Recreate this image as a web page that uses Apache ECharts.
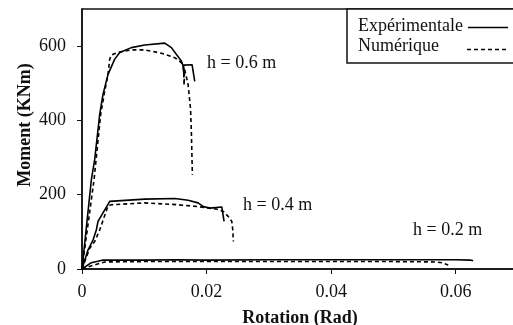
<!DOCTYPE html>
<html>
<head>
<meta charset="utf-8">
<script src="https://cdn.jsdelivr.net/npm/echarts@6/dist/echarts.min.js"></script>
<style>html,body{margin:0;padding:0;background:#fff}#c{width:513px;height:325px}</style>
</head>
<body>
<div id="c"></div>
<script>
// Data: [rotation (rad), moment (kNm)]
const exp06 = [[0,0],[0.0015,240],[0.00204,295],[0.00284,416],[0.00337,470],[0.00418,524],[0.00525,565],[0.00606,583],[0.00792,596],[0.01007,603],[0.01329,608],[0.01435,596],[0.01595,560],[0.01622,547],[0.01639,519],[0.0163,549],[0.01767,550],[0.0181,505]];
const num06 = [[0,0],[0.00193,240],[0.003,416],[0.00365,479],[0.00418,524],[0.00445,565],[0.00471,576],[0.00578,583],[0.00792,590],[0.01007,590],[0.01274,581],[0.01489,569],[0.01595,556],[0.0163,543],[0.01639,495],[0.01647,538],[0.01703,497],[0.0173,452],[0.01743,430],[0.01756,368],[0.01772,254]];
const exp04 = [[0,0],[0.00096,51],[0.00177,78],[0.0023,105],[0.00257,128],[0.00337,151],[0.00445,182],[0.00631,184],[0.01007,188],[0.01489,190],[0.01703,185],[0.01863,178],[0.01949,168],[0.02056,164],[0.02244,167],[0.0227,164],[0.02281,128]];
const num04 = [[0,0],[0.00124,56],[0.00204,74],[0.00284,105],[0.00418,170],[0.00471,173],[0.01007,178],[0.01542,173],[0.01863,168],[0.02164,161],[0.0227,155],[0.0235,141],[0.02405,128],[0.02421,105],[0.0243,74]];
const exp02 = [[0,0],[0.0015,17],[0.0034,24],[0.01,24],[0.015,25],[0.02,24],[0.03,25],[0.04,25],[0.05,25],[0.06,25],[0.0623,24],[0.0628,22]];
const num02 = [[0,0],[0.002,11],[0.0037,19],[0.01,20],[0.02,20],[0.03,20],[0.04,20],[0.05,20],[0.0565,19],[0.0578,17],[0.0588,11]];
const seriesNames = ['Expérimentale', 'Numérique'];
const annotations = ['h = 0.6 m', 'h = 0.4 m', 'h = 0.2 m'];
const xTitle = 'Rotation (Rad)';
const yTitle = 'Moment (KNm)';

const FONT = 'Liberation Serif';
const FONTCSS = '18px "Liberation Serif"';
const solid = {color:'#000', width:1.6, type:'solid'};
const dashed = {color:'#000', width:1.6, type:[4,3]};
function mk(name, data, ls){
  return {type:'line', name:name, data:data, symbol:'none', showSymbol:false, lineStyle:ls, itemStyle:{color:'#000'}, animation:false, silent:true};
}
const chart = echarts.init(document.getElementById('c'), null, {renderer:'canvas'});
chart.setOption({
  animation:false,
  backgroundColor:'#fff',
  grid:{left:82, top:9, right:-5, bottom:56, containLabel:false, outerBoundsMode:'none',
        show:true, borderColor:'#111', borderWidth:1.5, backgroundColor:'transparent'},
  xAxis:{type:'value', min:0, max:0.07, interval:0.02,
    name:xTitle, nameLocation:'middle', nameGap:40,
    nameTextStyle:{fontFamily:FONT, fontSize:18, fontWeight:'bold', color:'#111'},
    axisLine:{lineStyle:{color:'#111', width:1.5}},
    axisTick:{show:true, inside:false, length:5, lineStyle:{color:'#111'}},
    axisLabel:{fontFamily:FONT, fontSize:18, color:'#111', margin:14, showMaxLabel:false},
    splitLine:{show:false}},
  yAxis:{type:'value', min:0, max:700, interval:200,
    axisLine:{show:true, lineStyle:{color:'#111', width:1.5}},
    axisTick:{show:true, inside:false, length:5, lineStyle:{color:'#111'}},
    axisLabel:{fontFamily:FONT, fontSize:18, color:'#111', margin:16, showMaxLabel:false},
    splitLine:{show:false}},
  graphic:[
    {type:'text', x:25, y:125, rotation:Math.PI/2, style:{text:yTitle, font:'bold ' + FONTCSS, fill:'#111', align:'center', verticalAlign:'middle'}},
    {type:'rect', shape:{x:347, y:9, width:200, height:54}, style:{fill:'#fff', stroke:'#111', lineWidth:1.5}, z:10},
    {type:'text', x:358, y:26, style:{text:seriesNames[0], font:FONTCSS, fill:'#111', verticalAlign:'middle'}, z:11},
    {type:'text', x:358, y:46, style:{text:seriesNames[1], font:FONTCSS, fill:'#111', verticalAlign:'middle'}, z:11},
    {type:'line', shape:{x1:468, y1:27.5, x2:508, y2:27.5}, style:{stroke:'#000', lineWidth:1.6}, z:11},
    {type:'line', shape:{x1:467, y1:49.5, x2:509, y2:49.5}, style:{stroke:'#000', lineWidth:1.6, lineDash:[4,3]}, z:11},
    {type:'text', x:207, y:63, style:{text:annotations[0], font:FONTCSS, fill:'#111', verticalAlign:'middle'}},
    {type:'text', x:243, y:205, style:{text:annotations[1], font:FONTCSS, fill:'#111', verticalAlign:'middle'}},
    {type:'text', x:413, y:230, style:{text:annotations[2], font:FONTCSS, fill:'#111', verticalAlign:'middle'}}
  ],
  series:[
    mk(seriesNames[0], exp06, solid),
    mk(seriesNames[1], num06, dashed),
    mk(seriesNames[0], exp04, solid),
    mk(seriesNames[1], num04, dashed),
    mk(seriesNames[0], exp02, solid),
    mk(seriesNames[1], num02, dashed)
  ]
});
</script>
</body>
</html>
